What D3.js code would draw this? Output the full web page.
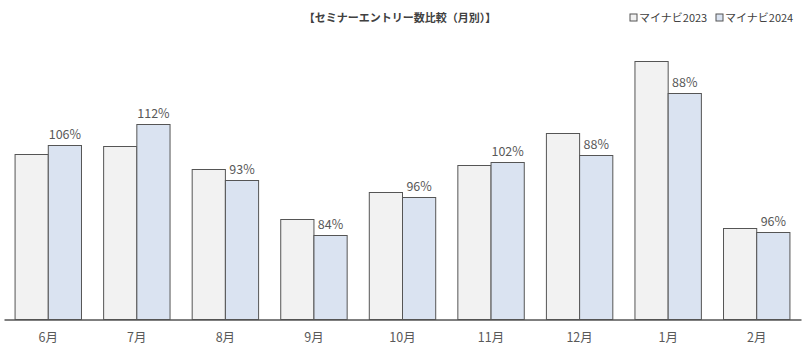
<!DOCTYPE html>
<html><head><meta charset="utf-8">
<script src="https://cdn.jsdelivr.net/npm/d3@7/dist/d3.min.js"></script>
<style>
html,body{margin:0;padding:0;background:#fff;}
svg{display:block;font-family:"Noto Sans CJK JP","Noto Sans",sans-serif;}
</style></head>
<body>
<svg id="c" width="806" height="355"></svg>
<script>
const categories = ["6月","7月","8月","9月","10月","11月","12月","1月","2月"];
const series2023 = [165,173,150,100,127,154,186,258,91];
const series2024 = [174,195,139,84,122,157,164,226,87];
const ratioLabels = ["106%","112%","93%","84%","96%","102%","88%","88%","96%"];
const seriesNames = ["マイナビ2023","マイナビ2024"];
const title = "【セミナーエントリー数比較（月別）】";

const W = 806, H = 355;
const left = 4, right = 801, base = 319.5;
const svg = d3.select("#c");
const colors = ["#f2f2f2","#dae3f1"];

const x = d3.scaleBand().domain(categories).range([left, right]).paddingInner(0.25).paddingOuter(0.125);
const x1 = d3.scaleBand().domain([0,1]).range([0, x.bandwidth()]);
const y = d3.scaleLinear().domain([0,300]).range([base, base-300]);

const data = [series2023, series2024];
data.forEach((s, si) => {
  svg.append("g").selectAll("rect").data(s).join("rect")
    .attr("x", (d,i) => x(categories[i]) + x1(si))
    .attr("y", d => y(d))
    .attr("width", x1.bandwidth())
    .attr("height", d => y(0) - y(d))
    .attr("fill", colors[si])
    .attr("stroke", "#555")
    .attr("stroke-width", 1);
});

svg.append("g").selectAll("text").data(series2024).join("text")
  .attr("x", (d,i) => x(categories[i]) + x1(1) + x1.bandwidth()/2)
  .attr("y", d => y(d) - 7)
  .attr("text-anchor","middle")
  .attr("font-size", 12.5)
  .attr("fill", "#595959")
  .text((d,i) => ratioLabels[i]);

const axis = d3.axisBottom(x).tickSize(0).tickPadding(14);
const ag = svg.append("g").attr("transform", `translate(0,${base})`).call(axis);
ag.select(".domain").attr("stroke","#555").attr("stroke-width",1.5);
ag.selectAll("text").attr("font-size", 12.5).attr("fill","#595959")
  .attr("font-family",'"Noto Sans CJK JP","Noto Sans",sans-serif');

svg.append("text").attr("x", 400).attr("y", 22).attr("text-anchor","middle")
  .attr("font-size", 11).attr("font-weight","bold").attr("fill","#404040").text(title);

const lg = svg.append("g");
const lx = [630, 716];
seriesNames.forEach((n,i) => {
  lg.append("rect").attr("x", lx[i]).attr("y", 14).attr("width", 7).attr("height", 7)
    .attr("fill", colors[i]).attr("stroke","#555").attr("stroke-width",1);
  lg.append("text").attr("x", lx[i]+9).attr("y", 22).attr("font-size", 11)
    .attr("fill","#404040").text(n);
});
</script>
</body></html>
